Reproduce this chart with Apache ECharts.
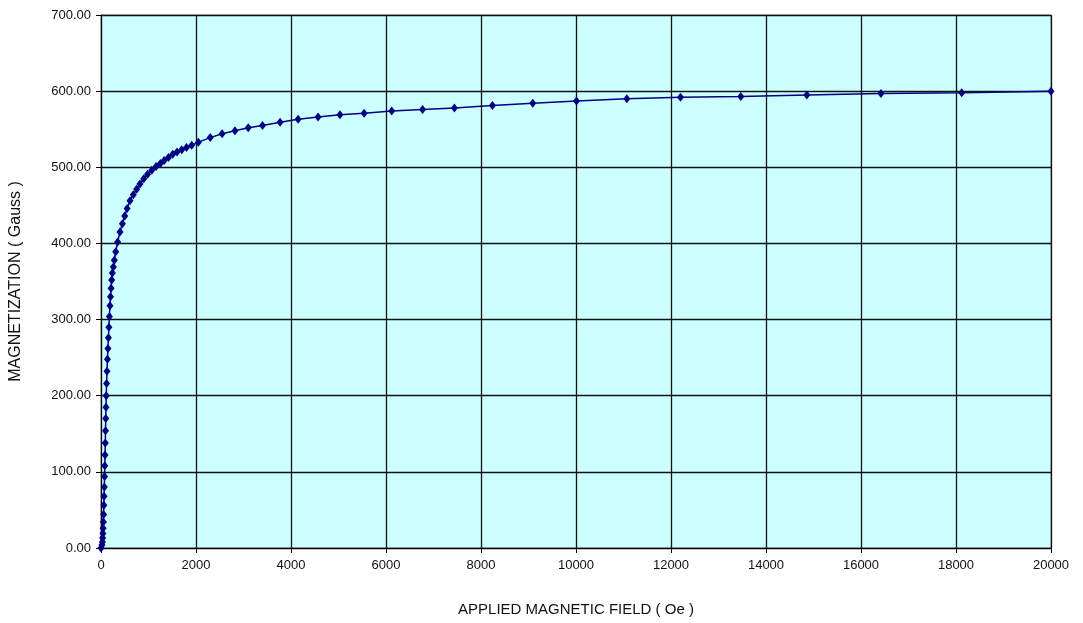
<!DOCTYPE html>
<html>
<head>
<meta charset="utf-8">
<title>Magnetization curve</title>
<script src="https://cdn.jsdelivr.net/npm/echarts@6/dist/echarts.min.js"></script>
<style>
  html, body { margin: 0; padding: 0; background: #fff; }
</style>
</head>
<body>
<div id="main" style="width:1083px;height:623px;"></div>
<script>
// applied field (Oe)
var field = [0, 20, 30, 35, 40, 45, 50, 55, 60, 65, 70, 75, 80, 85, 90, 95, 100, 105, 110, 118, 126,
  136, 146, 156, 166, 177, 189, 200, 212, 225, 240, 260, 280, 310, 350, 400, 450, 500, 550, 610, 680,
  750, 820, 900, 980, 1070, 1160, 1250, 1330, 1420, 1510, 1600, 1700, 1800, 1910, 2050, 2300, 2550, 2820, 3100, 3400,
  3770, 4150, 4570, 5030, 5540, 6120, 6770, 7440, 8240, 9090, 10010, 11070, 12200, 13470, 14860, 16420, 18120, 20000];
// magnetization (Gauss)
var magnet = [0, 4, 8, 13, 19, 26, 34, 44, 56, 68, 80, 94, 108, 122, 138, 154, 170, 185, 200, 216, 232,
  248, 262, 276, 290, 304, 318, 330, 341, 352, 361, 369, 378, 389, 402, 415, 426, 436, 446, 456, 464,
  471, 478, 485, 491, 496, 501, 505, 509, 513, 517, 520, 523, 526, 529, 533, 539, 544, 548, 552, 555,
  559, 563, 566, 569, 571, 574, 576, 578, 581, 584, 587, 590, 592, 593, 595, 597, 598, 600];

var pts = [];
for (var i = 0; i < field.length; i++) {
  pts.push([field[i], magnet[i]]);
}

var myChart = echarts.init(document.getElementById('main'));
var font = 'Liberation Sans, Arial, sans-serif';

var option = {
  animation: false,
  backgroundColor: '#ffffff',
  grid: {
    left: 101, right: 32, top: 15, bottom: 75,
    show: true,
    backgroundColor: '#ccffff',
    borderColor: '#8a8a8a',
    borderWidth: 1
  },
  xAxis: {
    type: 'value',
    min: 0, max: 20000, interval: 2000,
    name: 'APPLIED MAGNETIC FIELD ( Oe )',
    nameLocation: 'middle',
    nameGap: 54,
    nameTextStyle: { fontFamily: font, fontSize: 15, color: '#111' },
    axisLine: { show: true, lineStyle: { color: '#000', width: 1 } },
    axisTick: { show: true, length: 5, lineStyle: { color: '#000' } },
    axisLabel: {
      fontFamily: font, fontSize: 13, color: '#111', margin: 11,
      formatter: function (v) { return String(v); }
    },
    splitLine: { show: true, lineStyle: { color: '#111', width: 1.3 } }
  },
  yAxis: {
    type: 'value',
    min: 0, max: 700, interval: 100,
    name: 'MAGNETIZATION ( Gauss )',
    nameLocation: 'middle',
    nameGap: 77,
    nameTextStyle: { fontFamily: font, fontSize: 16, color: '#111' },
    axisLine: { show: true, lineStyle: { color: '#000', width: 1 } },
    axisTick: { show: true, length: 5, lineStyle: { color: '#000' } },
    axisLabel: {
      fontFamily: font, fontSize: 13, color: '#111', margin: 10,
      formatter: function (v) { return v.toFixed(2); }
    },
    splitLine: { show: true, lineStyle: { color: '#111', width: 1.3 } }
  },
  series: [{
    type: 'line',
    data: pts,
    symbol: 'diamond',
    symbolSize: [7, 9],
    showAllSymbol: true,
    lineStyle: { color: '#000080', width: 1.5 },
    itemStyle: { color: '#000080' }
  }]
};

myChart.setOption(option);
</script>
</body>
</html>
